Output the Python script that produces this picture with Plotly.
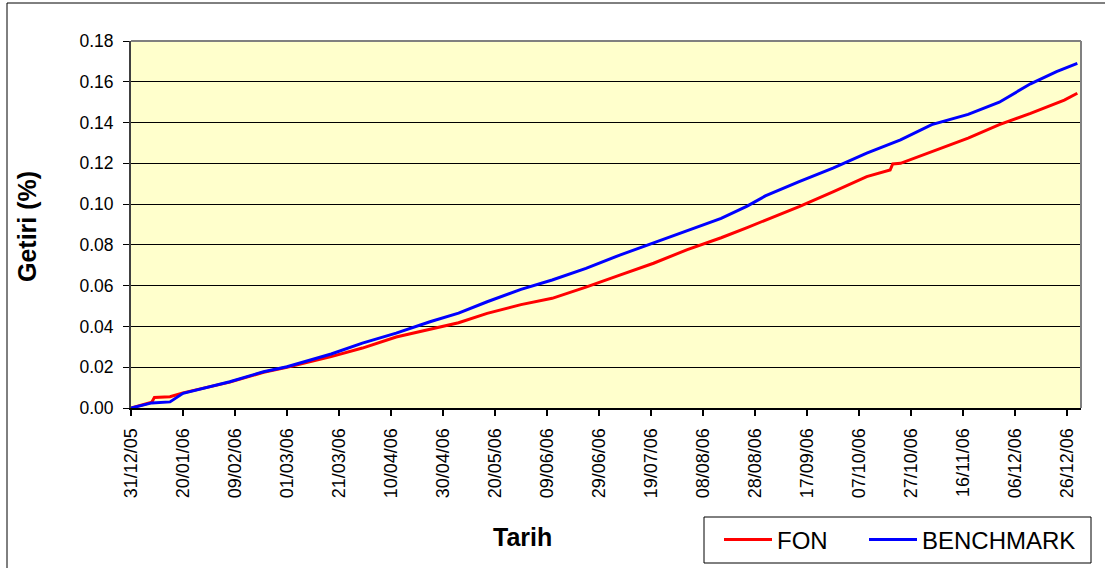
import pandas as pd
import plotly.graph_objects as go

# ---- data ----
fon_dates = ["2005-12-31", "2006-01-08", "2006-01-09", "2006-01-15", "2006-01-20",
             "2006-02-07", "2006-02-20", "2006-03-01", "2006-03-18", "2006-03-30",
             "2006-04-12", "2006-04-25", "2006-05-06", "2006-05-17", "2006-05-30",
             "2006-06-11", "2006-06-24", "2006-07-07", "2006-07-20", "2006-08-02",
             "2006-08-15", "2006-08-25", "2006-09-01", "2006-09-14", "2006-09-27",
             "2006-10-10", "2006-10-19", "2006-10-20", "2006-10-23", "2006-11-04",
             "2006-11-18", "2006-11-30", "2006-12-12", "2006-12-25", "2006-12-30"]
fon_values = [0.0, 0.0028, 0.0052, 0.0055, 0.0074,
              0.0127, 0.0175, 0.0200, 0.0252, 0.0294,
              0.0348, 0.0385, 0.0418, 0.0464, 0.0507,
              0.0538, 0.0593, 0.0652, 0.0710, 0.0777,
              0.0835, 0.0885, 0.0920, 0.0988, 0.1060,
              0.1135, 0.1167, 0.1197, 0.1200, 0.1258,
              0.1324, 0.1390, 0.1445, 0.1510, 0.1544]

bench_dates = ["2005-12-31", "2006-01-08", "2006-01-15", "2006-01-20", "2006-02-07",
               "2006-02-20", "2006-03-01", "2006-03-18", "2006-03-30", "2006-04-12",
               "2006-04-25", "2006-05-06", "2006-05-17", "2006-05-30", "2006-06-11",
               "2006-06-24", "2006-07-07", "2006-07-20", "2006-08-02", "2006-08-15",
               "2006-08-25", "2006-09-01", "2006-09-14", "2006-09-27", "2006-10-10",
               "2006-10-23", "2006-11-04", "2006-11-18", "2006-11-30", "2006-12-12",
               "2006-12-22", "2006-12-30"]
bench_values = [0.0, 0.0025, 0.0030, 0.0072, 0.0129,
                0.0178, 0.0202, 0.0265, 0.0318, 0.0367,
                0.0423, 0.0465, 0.0521, 0.0582, 0.0628,
                0.0685, 0.0750, 0.0810, 0.0873, 0.0930,
                0.0990, 0.1040, 0.1110, 0.1177, 0.1250,
                0.1315, 0.1390, 0.1440, 0.1500, 0.1590,
                0.1650, 0.1690]

tick_labels = ["31/12/05", "20/01/06", "09/02/06", "01/03/06", "21/03/06", "10/04/06",
               "30/04/06", "20/05/06", "09/06/06", "29/06/06", "19/07/06", "08/08/06",
               "28/08/06", "17/09/06", "07/10/06", "27/10/06", "16/11/06", "06/12/06",
               "26/12/06"]
tick_vals = [pd.to_datetime(t, format="%d/%m/%y") for t in tick_labels]

x_title = "Tarih"
y_title = "Getiri (%)"

FONT = "Liberation Sans, Arial, sans-serif"
W, H = 1105, 568
L, R, T, B = 131, 1081, 41, 408
PW, PH = R - L, B - T


def px_x(x):
    return (x - L) / PW


def px_y(y):
    return (B - y) / PH


fig = go.Figure()
fig.add_trace(go.Scatter(x=pd.to_datetime(fon_dates), y=fon_values, name="FON",
                         mode="lines", line=dict(color="#FF0000", width=3),
                         legend="legend"))
fig.add_trace(go.Scatter(x=pd.to_datetime(bench_dates), y=bench_values, name="BENCHMARK",
                         mode="lines", line=dict(color="#0000FF", width=3),
                         legend="legend2"))

leg_common = dict(orientation="h", yanchor="middle", xanchor="left",
                  bgcolor="rgba(0,0,0,0)", borderwidth=0,
                  font=dict(family=FONT, size=24, color="black"), itemwidth=48)

fig.update_layout(
    width=W, height=H,
    margin=dict(l=L, r=W - R, t=T, b=H - B, autoexpand=False),
    paper_bgcolor="white",
    plot_bgcolor="#FFFFCC",
    font=dict(family=FONT, size=18, color="black"),
    showlegend=True,
    legend=dict(x=px_x(719), y=px_y(540), **leg_common),
    legend2=dict(x=px_x(864), y=px_y(540), **leg_common),
)

fig.update_xaxes(
    range=[pd.Timestamp("2005-12-31"), pd.Timestamp("2006-12-31 10:00")],
    tickvals=tick_vals, ticktext=tick_labels, tickangle=-90,
    ticks="outside", ticklen=6, tickwidth=2, tickcolor="black",
    ticklabelstandoff=5,
    showgrid=False, zeroline=False,
    showline=True, linecolor="black", linewidth=2, mirror=False,
    tickfont=dict(family=FONT, size=18),
)
fig.update_yaxes(
    range=[0, 0.18], dtick=0.02, tickformat=".2f",
    ticks="outside", ticklen=6, tickwidth=1, tickcolor="black",
    ticklabelstandoff=6,
    showgrid=True, gridcolor="black", gridwidth=1,
    zeroline=False,
    showline=True, linecolor="#404040", linewidth=2,
    tickfont=dict(family=FONT, size=17.5),
)

fig.add_annotation(text="<b>" + x_title + "</b>", xref="paper", yref="paper",
                   x=px_x(522), y=px_y(537), showarrow=False,
                   font=dict(family=FONT, size=25), xanchor="center", yanchor="middle")
fig.add_annotation(text="<b>" + y_title + "</b>", xref="paper", yref="paper",
                   x=px_x(27), y=px_y(227), showarrow=False, textangle=-90,
                   font=dict(family=FONT, size=25), xanchor="center", yanchor="middle")

# legend frame
fig.add_shape(type="rect", xref="paper", yref="paper",
              x0=px_x(704), x1=px_x(1091), y0=px_y(517), y1=px_y(563),
              line=dict(color="black", width=1), fillcolor="white", layer="below")
# plot-area border on top and right (gray), outer chart border on left and top
fig.add_shape(type="line", xref="paper", yref="paper", x0=0, x1=1, y0=1, y1=1,
              line=dict(color="#808080", width=2))
fig.add_shape(type="line", xref="paper", yref="paper", x0=1, x1=1, y0=0, y1=1,
              line=dict(color="#808080", width=2))
fig.add_shape(type="line", xref="paper", yref="paper",
              x0=px_x(7), x1=px_x(7), y0=px_y(3), y1=px_y(H),
              line=dict(color="black", width=1))
fig.add_shape(type="line", xref="paper", yref="paper",
              x0=px_x(7), x1=px_x(W), y0=px_y(3), y1=px_y(3),
              line=dict(color="black", width=1))

fig.write_html("out.html", config={"displayModeBar": False},
               post_script="document.body.style.margin='0';")
